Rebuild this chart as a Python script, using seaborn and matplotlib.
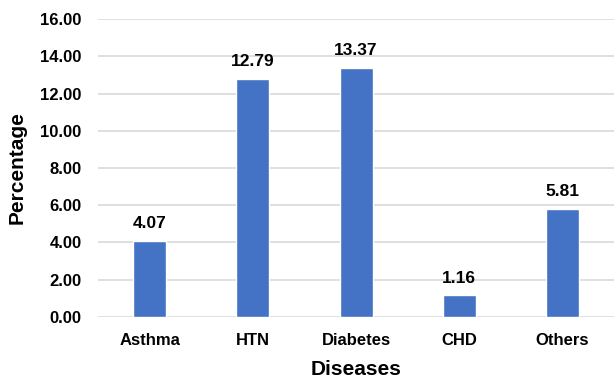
import pandas as pd
import matplotlib
matplotlib.use("Agg")
import matplotlib.pyplot as plt
import seaborn as sns

# data
diseases = ["Asthma", "HTN", "Diabetes", "CHD", "Others"]
percentage = [4.07, 12.79, 13.37, 1.16, 5.81]

df = pd.DataFrame({"Diseases": diseases, "Percentage": percentage})

sns.set_style("white")
plt.rcParams["font.family"] = ["Liberation Sans", "DejaVu Sans"]
plt.rcParams["font.weight"] = "bold"
plt.rcParams["text.color"] = "black"
plt.rcParams["axes.labelcolor"] = "black"
plt.rcParams["xtick.color"] = "black"
plt.rcParams["ytick.color"] = "black"

fig = plt.figure(figsize=(6.14, 3.84), dpi=100)
ax = fig.add_axes([0.16, 0.175, 0.84, 0.775])

sns.barplot(data=df, x="Diseases", y="Percentage", color="#4472C4",
            width=0.32, saturation=1, ax=ax, zorder=3)

ax.set_ylim(0, 16)
ax.set_yticks(range(0, 17, 2))
ax.set_yticklabels([f"{v:.2f}" for v in range(0, 17, 2)])
ax.yaxis.grid(True, color="#D9D9D9", linewidth=1.2, zorder=0)
ax.set_axisbelow(True)
for s in ax.spines.values():
    s.set_visible(False)
ax.tick_params(axis="both", length=0, labelsize=12, labelcolor="black")
ax.tick_params(axis="y", pad=12)
ax.tick_params(axis="x", pad=12)
for lab in ax.get_xticklabels() + ax.get_yticklabels():
    lab.set_fontweight("bold")

for bar, val in zip(ax.patches, percentage):
    ax.annotate(f"{val:.2f}", (bar.get_x() + bar.get_width() / 2, bar.get_height()),
                xytext=(0, 7), textcoords="offset points", ha="center", va="bottom",
                fontsize=12.5, fontweight="bold", color="black")

ax.set_xlabel("Diseases", fontsize=15, fontweight="bold", labelpad=8, color="black")
ax.set_ylabel("Percentage", fontsize=15, fontweight="bold", labelpad=10, color="black")

fig.savefig("out.png", dpi=100)
